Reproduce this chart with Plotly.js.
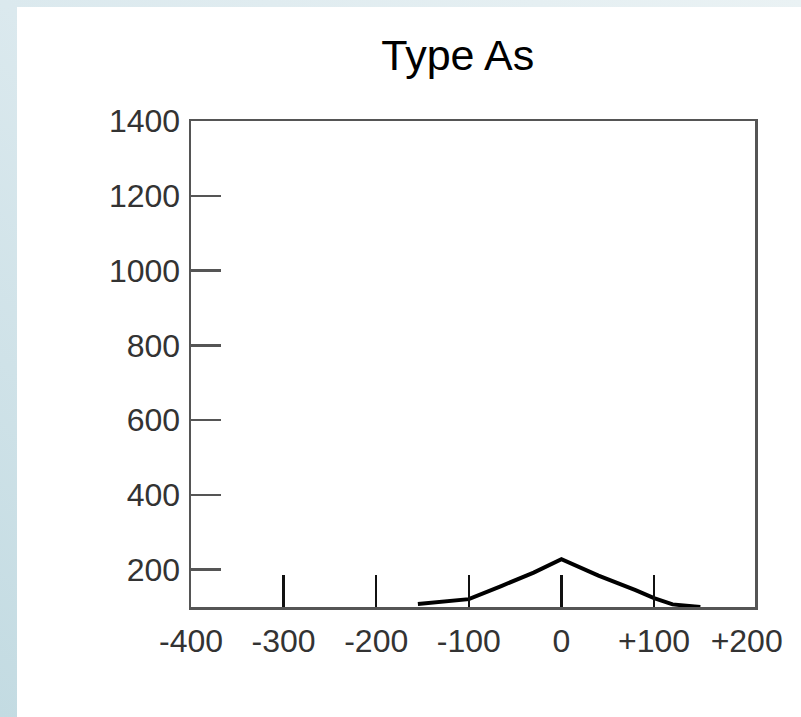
<!DOCTYPE html>
<html>
<head>
<meta charset="utf-8">
<script src="https://cdn.plot.ly/plotly-3.0.1.min.js"></script>
<style>
  html, body { margin: 0; padding: 0; width: 801px; height: 717px; overflow: hidden;
    background: linear-gradient(to top right, #c3dbe2 0%, #dbe9ee 50%, #eaf2f4 100%); }
  #chart { position: absolute; left: 17px; top: 7px; width: 784px; height: 710px; background: #ffffff; }
</style>
</head>
<body>
<div id="chart"></div>
<script>
// Data
const offsetX = [-155, -130, -100, -65, -30, 0, 40, 80, 100, 120, 150];
const countY  = [108, 113, 121, 156, 192, 228, 184, 145, 124, 107, 100];

const xLabelVals = [-400, -300, -200, -100, 0, 100, 200];
const xLabelText = ['-400', '-300', '-200', '-100', '0', '+100', '+200'];
const xTickMarks = [-300, -200, -100, 0, 100];
const yTickVals  = [200, 400, 600, 800, 1000, 1200, 1400];
const yTickText  = ['200', '400', '600', '800', '1000', '1200', '1400'];
const chartTitle = 'Type As';

const FONT = 'Liberation Sans, Arial, sans-serif';

const traces = [{
  x: offsetX,
  y: countY,
  type: 'scatter',
  mode: 'lines',
  line: { color: '#000000', width: 4 },
  hoverinfo: 'x+y',
  showlegend: false
}];

const layout = {
  width: 784,
  height: 710,
  margin: { l: 174, r: 46, t: 114, b: 110 },
  paper_bgcolor: '#ffffff',
  plot_bgcolor: '#ffffff',
  showlegend: false,
  title: {
    text: chartTitle,
    font: { family: FONT, size: 43, color: '#000000' },
    xref: 'paper', x: 0.473, xanchor: 'center',
    yref: 'container', y: 0.932, yanchor: 'middle'
  },
  xaxis: {
    range: [-400, 209],
    tickmode: 'array',
    tickvals: xLabelVals,
    ticktext: xLabelText,
    ticks: '',
    ticklabelstandoff: 4,
    tickfont: { family: FONT, size: 32, color: '#333333' },
    showgrid: false,
    zeroline: false,
    showline: true,
    mirror: true,
    linecolor: '#555555',
    linewidth: 2.5,
    fixedrange: true
  },
  xaxis2: {
    overlaying: 'x',
    matches: 'x',
    side: 'bottom',
    anchor: 'y',
    tickmode: 'array',
    tickvals: xTickMarks,
    showticklabels: false,
    ticks: 'inside',
    ticklen: 32,
    tickwidth: 2.5,
    tickcolor: '#111111',
    showgrid: false,
    zeroline: false,
    showline: false
  },
  yaxis: {
    range: [100, 1400],
    tickmode: 'array',
    tickvals: yTickVals,
    ticktext: yTickText,
    ticks: 'inside',
    ticklen: 30,
    tickwidth: 2.5,
    tickcolor: '#555555',
    ticklabelstandoff: 2,
    tickfont: { family: FONT, size: 32, color: '#333333' },
    showgrid: false,
    zeroline: false,
    showline: true,
    mirror: true,
    linecolor: '#555555',
    linewidth: 2.5,
    fixedrange: true
  }
};

// invisible helper trace bound to xaxis2 so its ticks render
traces.push({
  x: [offsetX[0]], y: [countY[0]], xaxis: 'x2', yaxis: 'y',
  type: 'scatter', mode: 'markers', marker: { opacity: 0 },
  hoverinfo: 'skip', showlegend: false
});

Plotly.newPlot('chart', traces, layout, { displayModeBar: false, staticPlot: true });
</script>
</body>
</html>
